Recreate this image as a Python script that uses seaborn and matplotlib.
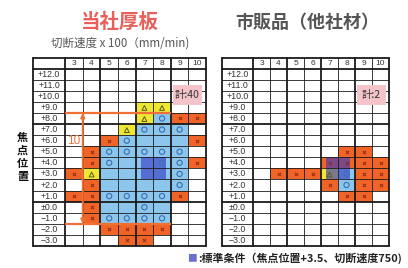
import matplotlib as mpl
mpl.use('Agg')
import matplotlib.pyplot as plt
from matplotlib.colors import ListedColormap
from matplotlib.patches import Rectangle
import seaborn as sns
import pandas as pd
import numpy as np

sns.set_style('white')
plt.rcParams['font.family'] = ['Noto Sans CJK JP', 'DejaVu Sans']

# cutting speed (x100 mm/min) and focus position
speeds = ['3', '4', '5', '6', '7', '8', '9', '10']
focus = ['+12.0', '+11.0', '+10.0', '+9.0', '+8.0', '+7.0', '+6.0', '+5.0',
         '+4.0', '+3.0', '+2.0', '+1.0', '±0.0', '−1.0', '−2.0', '−3.0']

# '.' untested, 'o' good, 't' fair, 'x' bad, 'b' good range (no mark)
ours_rows = [
    '........',
    '........',
    '........',
    '....tt..',
    '....toxx',
    '...tooo.',
    '..xobbbx',
    '.xooooo.',
    '.xobboox',
    'xtbbbbo.',
    '.xbbbbo.',
    'xxoooox.',
    '.xbbob..',
    '.xoooo..',
    '..xxxx..',
    '...xx...',
]
other_rows = [
    '........',
    '........',
    '........',
    '........',
    '........',
    '........',
    '........',
    '.....xx.',
    '....xxxx',
    '.xxxtoxx',
    '....xoxx',
    '.....xx.',
    '........',
    '........',
    '........',
    '........',
]
ours_total = 40
other_total = 2
std_speed = 7.5
std_focus = 3.5
range_label = '10'

code_map = {'.': 0, 'o': 1, 't': 2, 'x': 3, 'b': 4}
cell_cmap = ListedColormap(['#ffffff', '#8cc6ec', '#f0e634', '#f06428', '#8cc6ec'])
orange = '#f07034'
W, H = 408, 268


def draw_grid(ax, rows, total, label_w):
    codes = np.array([[code_map[c] for c in r] for r in rows])
    df = pd.DataFrame(codes, index=focus, columns=speeds)
    sns.heatmap(df, ax=ax, cmap=cell_cmap, vmin=-0.5, vmax=4.5, cbar=False,
                xticklabels=False, yticklabels=False)
    ax.set_xlim(-label_w, len(speeds))
    ax.set_ylim(len(focus), -1)
    for s in ax.spines.values():
        s.set_visible(False)

    # standard condition overlay
    sx = float(std_speed) - float(speeds[0]) + 0.5
    sy = float(focus[0].replace('+', '')) - std_focus + 0.5
    ax.add_patch(Rectangle((sx - 0.7, sy - 1.0), 1.4, 2.0, color='#3438c4',
                           alpha=0.62, lw=0, zorder=2))

    yy, xx = np.where(codes == 1)
    ax.scatter(xx + 0.5, yy + 0.5, s=14, facecolor='none', edgecolor='#3a6eb0',
               lw=0.8, zorder=3)
    yy, xx = np.where(codes == 2)
    ax.scatter(xx + 0.5, yy + 0.55, s=12, marker='^', facecolor='none',
               edgecolor='#5a5a20', lw=0.7, zorder=3)
    yy, xx = np.where(codes == 3)
    ax.scatter(xx + 0.5, yy + 0.5, s=5, marker='x', color='#8a2a18', lw=0.7,
               zorder=3)

    # table lines
    thick_x = [0, 2, 4, 6, len(speeds)]
    for x in range(len(speeds) + 1):
        ax.plot([x, x], [-1, len(focus)], color='#1a1a1a',
                lw=1.3 if x in thick_x else 0.6, zorder=4, clip_on=False)
    ax.plot([-label_w, -label_w], [-1, len(focus)], color='#1a1a1a', lw=1.3,
            zorder=4, clip_on=False)
    thick_y = [-1, 0, 5, 12, len(focus)]
    for y in range(-1, len(focus) + 1):
        ax.plot([-label_w, len(speeds)], [y, y], color='#1a1a1a',
                lw=1.3 if y in thick_y else 0.6, zorder=4, clip_on=False)

    for i, s in enumerate(speeds):
        ax.text(i + 0.5, -0.45, s, ha='center', va='center', fontsize=6,
                color='#333333', family=['Liberation Sans', 'DejaVu Sans'])
    for j, f in enumerate(focus):
        ax.text(-label_w / 2, j + 0.5, f, ha='center', va='center', fontsize=6.3,
                color='#333333', family=['Liberation Sans', 'DejaVu Sans'])

    ax.add_patch(Rectangle((6.1, 1.5), 1.7, 1.75, color='#f5c4cb', lw=0, zorder=5))
    ax.text(6.95, 2.4, f'計:{total}', ha='center', va='center', fontsize=7.5,
            color='#333333', zorder=6)
    ax.set_xticks([])
    ax.set_yticks([])


fig = plt.figure(figsize=(W / 100, H / 100), dpi=100)
ax1 = fig.add_axes([33 / W, 1 - 246 / H, (206 - 33) / W, (246 - 57.5) / H])
ax2 = fig.add_axes([221.7 / W, 1 - 246 / H, (389 - 221.7) / W, (246 - 57.5) / H])
draw_grid(ax1, ours_rows, ours_total, 1.83)
draw_grid(ax2, other_rows, other_total, 1.85)

# range arrow on our grid
ax1.plot([0, 6], [4, 4], color=orange, lw=1.6, zorder=6, solid_capstyle='butt')
ax1.plot([0, 6], [14, 14], color=orange, lw=1.6, zorder=6, solid_capstyle='butt')
ax1.annotate('', xy=(1, 4), xytext=(1, 14),
             arrowprops=dict(arrowstyle='<|-|>', color=orange, lw=1.4,
                             mutation_scale=6, shrinkA=0, shrinkB=0), zorder=6)
ax1.text(0.12, 6.5, range_label, ha='left', va='center', fontsize=8.5,
         color=orange, family=['Liberation Sans', 'DejaVu Sans'], zorder=6)

fig.text(120 / W, 1 - 22 / H, '当社厚板', ha='center', va='center', fontsize=14,
         weight='bold', color='#e8605a')
fig.text(120 / W, 1 - 43 / H, '切断速度 x 100（mm/min)', ha='center', va='center',
         fontsize=8.3, color='#555555')
fig.text(307 / W, 1 - 22 / H, '市販品（他社材）', ha='center', va='center',
         fontsize=13, weight='bold', color='#555555')
fig.text(22.5 / W, 1 - 157 / H, '焦\n点\n位\n置', ha='center', va='center',
         fontsize=8, weight='bold', color='#111111', linespacing=1.0)

fig.text(197 / W, 1 - 258 / H, '■', ha='right', va='center', fontsize=7,
         color='#6a72d0')
fig.text(198 / W, 1 - 258 / H, ':標準条件（焦点位置+3.5、切断速度750)', ha='left',
         va='center', fontsize=7.9, weight='bold', color='#222222')

fig.savefig('out.png', dpi=100, facecolor='white')
